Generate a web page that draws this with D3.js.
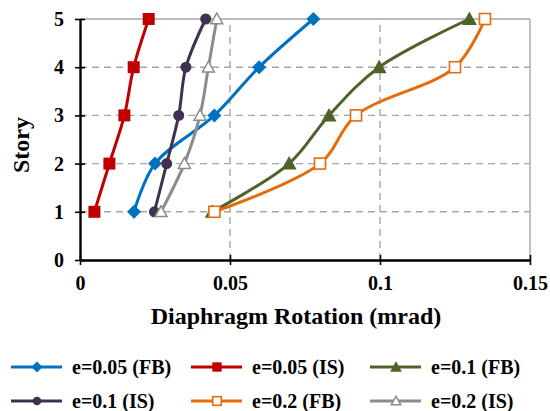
<!DOCTYPE html>
<html><head><meta charset="utf-8">
<script src="https://cdn.jsdelivr.net/npm/d3@7"></script>
<style>body{margin:0;background:#fff}svg{display:block}</style>
</head><body>
<script>
const stories = [1, 2, 3, 4, 5];
const e005FB = [0.018, 0.025, 0.0448, 0.0597, 0.0778];
const e005IS = [0.0048, 0.0098, 0.0148, 0.0179, 0.0229];
const e01FB = [0.0441, 0.0697, 0.083, 0.0997, 0.1298];
const e01IS = [0.0248, 0.0289, 0.0329, 0.0353, 0.0419];
const e02FB = [0.0448, 0.08, 0.092, 0.125, 0.135];
const e02IS = [0.027, 0.0348, 0.04, 0.0428, 0.0456];
const xTicks = [0, 0.05, 0.1, 0.15];
const xTickLabels = ["0", "0.05", "0.1", "0.15"];
const yTicks = [0, 1, 2, 3, 4, 5];
const yTickLabels = ["0", "1", "2", "3", "4", "5"];
const seriesNames = ["e=0.05 (FB)", "e=0.05 (IS)", "e=0.1 (FB)", "e=0.1 (IS)", "e=0.2 (FB)", "e=0.2 (IS)"];

const series = [
  {name: seriesNames[0], vals: e005FB, color: "#0070C0", marker: "diamond"},
  {name: seriesNames[1], vals: e005IS, color: "#C00000", marker: "square"},
  {name: seriesNames[2], vals: e01FB, color: "#4F6228", marker: "triangle"},
  {name: seriesNames[3], vals: e01IS, color: "#403151", marker: "circle"},
  {name: seriesNames[4], vals: e02FB, color: "#E46C0A", marker: "squareOpen"},
  {name: seriesNames[5], vals: e02IS, color: "#8C8C8C", marker: "triangleOpen"}
];

const W = 550, H = 411;
const m = {left: 80, right: 20, top: 19, bottom: 151};
const svg = d3.select("body").append("svg").attr("width", W).attr("height", H);
const x = d3.scaleLinear().domain([0, 0.15]).range([m.left, W - m.right]);
const y = d3.scaleLinear().domain([0, 5]).range([H - m.bottom, m.top]);
const FONT = "Liberation Serif";
function styleText(sel, size) {
  return sel.style("font-family", FONT).style("font-weight", "bold").style("font-size", size + "px").attr("fill", "#000");
}

// grid
const g = svg.append("g");
const gridColor = "#A6A6A6";
g.selectAll(".hg").data(yTicks.filter(d => d > 0 && d < 5)).join("line")
  .attr("x1", x(0)).attr("x2", x(0.15)).attr("y1", d => y(d)).attr("y2", d => y(d))
  .attr("stroke", gridColor).attr("stroke-width", 1.4).attr("stroke-dasharray", "7,5");
g.selectAll(".vg").data(xTicks.filter(d => d > 0 && d < 0.15)).join("line")
  .attr("x1", d => x(d)).attr("x2", d => x(d)).attr("y1", y(0)).attr("y2", y(5))
  .attr("stroke", gridColor).attr("stroke-width", 1.4).attr("stroke-dasharray", "7,5");
g.append("line").attr("x1", x(0)).attr("x2", x(0.15)).attr("y1", y(5)).attr("y2", y(5))
  .attr("stroke", gridColor).attr("stroke-width", 1.4);
g.append("line").attr("x1", x(0.15)).attr("x2", x(0.15)).attr("y1", y(0)).attr("y2", y(5))
  .attr("stroke", gridColor).attr("stroke-width", 1.4);

// axes
const xAxis = d3.axisBottom(x).tickValues(xTicks).tickFormat((d, i) => xTickLabels[i]).tickSizeInner(4).tickSizeOuter(0).tickPadding(12);
const xa = svg.append("g").attr("transform", `translate(0,${y(0)})`).call(xAxis);
xa.select(".domain").attr("stroke", "#000").attr("stroke-width", 2.4);
xa.selectAll(".tick line").attr("stroke", "#000").attr("stroke-width", 1.6).attr("y1", -5).attr("y2", 5);
styleText(xa.selectAll("text"), 20);

const yAxis = d3.axisLeft(y).tickValues(yTicks).tickFormat((d, i) => yTickLabels[i]).tickSizeInner(4).tickSizeOuter(0).tickPadding(12);
const ya = svg.append("g").attr("transform", `translate(${x(0)},0)`).call(yAxis);
ya.select(".domain").attr("stroke", "#000").attr("stroke-width", 2.4);
ya.selectAll(".tick line").attr("stroke", "#000").attr("stroke-width", 1.6).attr("x1", -5).attr("x2", 5);
styleText(ya.selectAll("text"), 20);

styleText(svg.append("text").attr("x", 296).attr("y", 324).attr("text-anchor", "middle"), 24).text("Diaphragm Rotation (mrad)");
styleText(svg.append("text").attr("transform", `translate(28.5,145) rotate(-90)`).attr("text-anchor", "middle"), 24).text("Story");

function drawMarker(sel, type, color, cx, cy, s) {
  s = s || 1;
  if (type === "diamond") {
    const r = 7 * s;
    sel.append("path").attr("d", `M${cx},${cy - r}L${cx + r},${cy}L${cx},${cy + r}L${cx - r},${cy}Z`).attr("fill", color);
  } else if (type === "square") {
    const r = 6 * s;
    sel.append("rect").attr("x", cx - r).attr("y", cy - r).attr("width", 2 * r).attr("height", 2 * r).attr("fill", color);
  } else if (type === "squareOpen") {
    const r = 5.5 * s;
    sel.append("rect").attr("x", cx - r).attr("y", cy - r).attr("width", 2 * r).attr("height", 2 * r).attr("fill", "#fff").attr("stroke", color).attr("stroke-width", 1.6);
  } else if (type === "triangle") {
    const r = 7.5 * s;
    sel.append("path").attr("d", `M${cx},${cy - r}L${cx + r},${cy + r * 0.8}L${cx - r},${cy + r * 0.8}Z`).attr("fill", color);
  } else if (type === "triangleOpen") {
    const r = 6 * s;
    sel.append("path").attr("d", `M${cx},${cy - r}L${cx + r},${cy + r * 0.8}L${cx - r},${cy + r * 0.8}Z`).attr("fill", "#fff").attr("stroke", color).attr("stroke-width", 1.5);
  } else if (type === "circle") {
    sel.append("circle").attr("cx", cx).attr("cy", cy).attr("r", 5.5 * s).attr("fill", color);
  }
}

const line = d3.line().x(d => x(d[0])).y(d => y(d[1])).curve(d3.curveCatmullRom.alpha(0.5));
const plot = svg.append("g");
series.forEach(s => {
  const pts = s.vals.map((v, i) => [v, stories[i]]);
  plot.append("path").datum(pts).attr("d", line).attr("fill", "none").attr("stroke", s.color).attr("stroke-width", 3);
});
series.forEach(s => {
  const mg = plot.append("g");
  s.vals.forEach((v, i) => drawMarker(mg, s.marker, s.color, x(v), y(stories[i])));
});

// legend
const legCols = [11, 191, 370];
const legRows = [367, 401];
series.forEach((s, i) => {
  const lx = legCols[i % 3], ly = legRows[Math.floor(i / 3)];
  const lg = svg.append("g");
  lg.append("line").attr("x1", lx).attr("x2", lx + 51).attr("y1", ly).attr("y2", ly).attr("stroke", s.color).attr("stroke-width", 3);
  drawMarker(lg, s.marker, s.color, lx + 26, ly, 0.78);
  styleText(lg.append("text").attr("x", lx + 61).attr("y", ly + 6.5), 20).text(s.name);
});
</script>
</body></html>
